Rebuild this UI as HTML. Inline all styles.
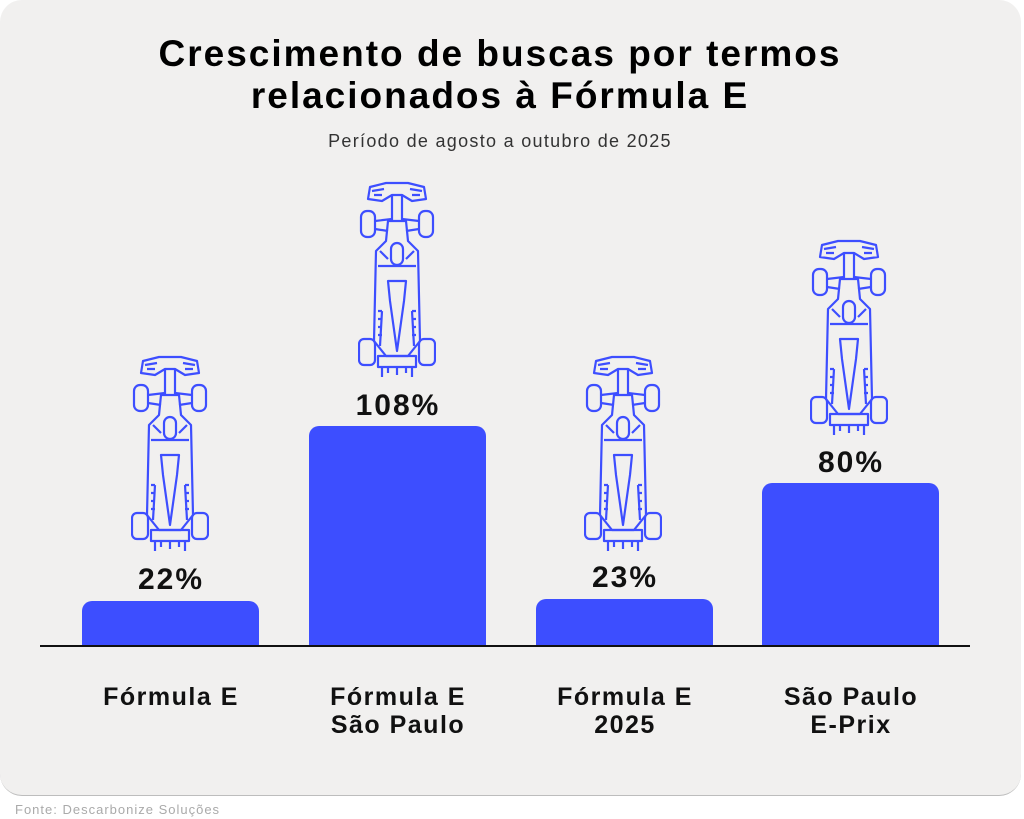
<!DOCTYPE html>
<html><head><meta charset="utf-8"><style>
body{margin:0;width:1024px;height:819px;background:#fff;position:relative;font-family:"Liberation Sans","DejaVu Sans",sans-serif;overflow:hidden}
.card{position:absolute;left:0;top:0;width:1021px;height:795px;background:#f1f0ef;border-radius:22px;border-bottom:1.5px solid #bdbdbd}
.t{position:absolute;left:0;width:1000px;text-align:center;font-weight:bold;color:#000}
.bar{position:absolute;background:#3d4eff;border-radius:10px 10px 0 0}
.pct{position:absolute;width:176px;text-align:center;font-weight:bold;font-size:30px;letter-spacing:2px;color:#111}
.cat{position:absolute;width:240px;text-align:center;font-weight:bold;font-size:25px;letter-spacing:1.5px;line-height:28px;color:#111}
.car{position:absolute;width:78px;height:198px}
</style></head><body>
<div class="card"></div>
<div class="t" style="top:33px;font-size:37px;letter-spacing:2px;line-height:42px">Crescimento de buscas por termos<br>relacionados à Fórmula E</div>
<div class="t" style="top:131px;font-size:18px;letter-spacing:1.3px;font-weight:normal;color:#333">Período de agosto a outubro de 2025</div>
<svg width="0" height="0" style="position:absolute"><defs><g id="car" fill="none" stroke="#3d4eff" stroke-width="2.2" stroke-linejoin="round">
<path d="M12 6 L28 2 L50 2 L66 6 L68 18 L54 20 L44 14 L34 14 L24 20 L10 18 Z"/>
<path d="M14 10 L26 8 M52 8 L64 10 M16 14 L24 14 M54 14 L62 14"/>
<path d="M34 14 L34 40 M44 14 L44 40"/>
<rect x="3" y="30" width="14" height="26" rx="6"/><rect x="61" y="30" width="14" height="26" rx="6"/>
<path d="M17 40 L34 38 M61 40 L44 38 M17 48 L30 50 M61 48 L48 50"/>
<path d="M30 40 L48 40 L50 60 L60 70 L62 160 L50 175 L28 175 L16 160 L18 70 L28 60 Z"/>
<rect x="33" y="62" width="12" height="22" rx="6"/>
<path d="M22 70 L30 78 M56 70 L48 78 M20 85 L58 85"/>
<path d="M30 100 L48 100 L46 120 L39 170 L32 120 Z"/>
<path d="M24 130 L22 165 M54 130 L56 165 M20 130 h4 M20 138 h4 M20 146 h4 M20 154 h4 M54 130 h4 M54 138 h4 M54 146 h4 M54 154 h4"/>
<rect x="1" y="158" width="16" height="26" rx="5"/><rect x="61" y="158" width="16" height="26" rx="5"/>
<path d="M20 175 L58 175 L58 186 L20 186 Z M24 186 L24 196 M54 186 L54 196 M30 186 v6 M39 186 v8 M48 186 v6"/>
</g></defs></svg>
<svg class="car" style="left:131px;top:355px" viewBox="0 0 78 198"><use href="#car"/></svg>
<svg class="car" style="left:358px;top:181px" viewBox="0 0 78 198"><use href="#car"/></svg>
<svg class="car" style="left:584px;top:355px" viewBox="0 0 78 198"><use href="#car"/></svg>
<svg class="car" style="left:810px;top:239px" viewBox="0 0 78 198"><use href="#car"/></svg>
<div class="bar" style="left:82px;top:601px;width:177px;height:45px"></div>
<div class="bar" style="left:309px;top:426px;width:177px;height:220px"></div>
<div class="bar" style="left:536px;top:599px;width:177px;height:47px"></div>
<div class="bar" style="left:762px;top:483px;width:177px;height:163px"></div>
<div style="position:absolute;left:40px;top:645px;width:930px;height:2px;background:#111"></div>
<div class="pct" style="left:83px;top:563px">22%</div>
<div class="pct" style="left:310px;top:389px">108%</div>
<div class="pct" style="left:537px;top:561px">23%</div>
<div class="pct" style="left:763px;top:446px">80%</div>
<div class="cat" style="left:51px;top:683px">Fórmula E</div>
<div class="cat" style="left:278px;top:683px">Fórmula E<br>São Paulo</div>
<div class="cat" style="left:505px;top:683px">Fórmula E<br>2025</div>
<div class="cat" style="left:731px;top:683px">São Paulo<br>E-Prix</div>
<div style="position:absolute;left:15px;top:802px;font-size:13px;letter-spacing:1px;color:#aaa">Fonte: Descarbonize Soluções</div>
</body></html>
